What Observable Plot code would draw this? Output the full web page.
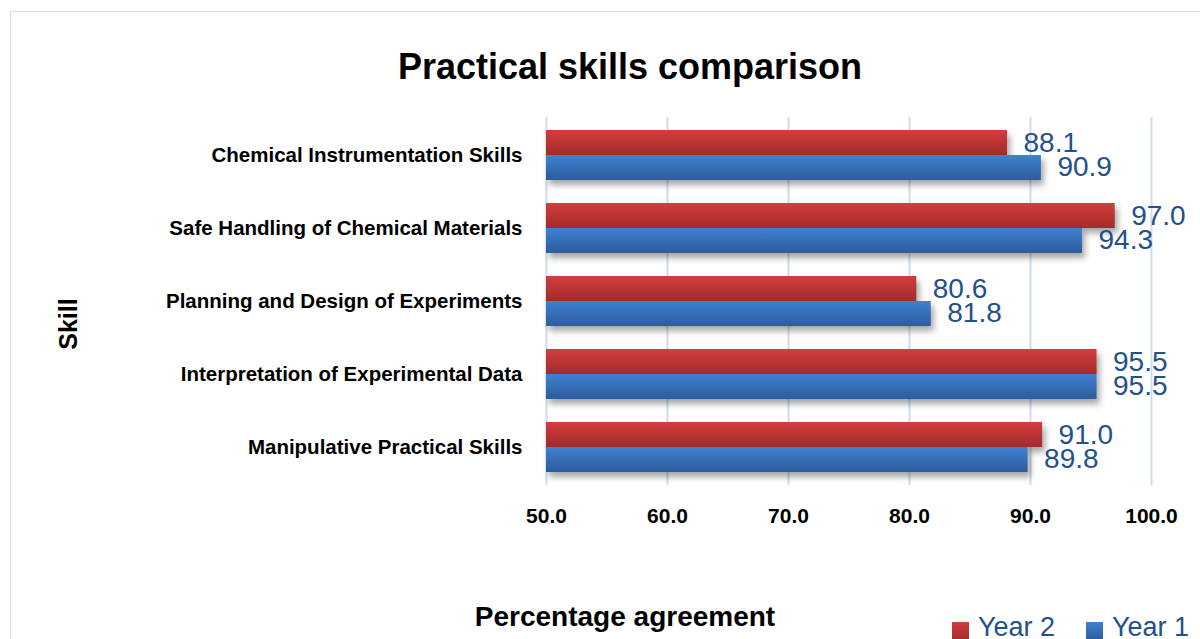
<!DOCTYPE html>
<html>
<head>
<meta charset="utf-8">
<script src="https://cdn.jsdelivr.net/npm/d3@7"></script>
<script src="https://cdn.jsdelivr.net/npm/@observablehq/plot@0.6"></script>
<style>
  html, body { margin: 0; padding: 0; background: #fff; }
  #wrap { position: relative; width: 1200px; height: 639px; overflow: hidden; font-family: "Liberation Sans", Arial, sans-serif; }
  #border { position: absolute; left: 10px; top: 11px; width: 1300px; height: 800px; border: 1.5px solid #d9e1ec; box-sizing: border-box; }
  .t { position: absolute; white-space: nowrap; line-height: 1; }
  #title { left: 630px; top: 49px; transform: translateX(-50%); font-size: 36px; font-weight: bold; color: #000; }
  #xtitle { left: 625px; top: 603px; transform: translateX(-50%); font-size: 28px; font-weight: bold; color: #000; }
  #ytitle { left: 68px; top: 324px; transform: translate(-50%, -50%) rotate(-90deg); font-size: 25px; font-weight: bold; color: #000; line-height: 1; }
  #chart { position: absolute; left: 0; top: 100px; }
  .sw { position: absolute; width: 17px; height: 17px; top: 622px; }
  .lg { position: absolute; top: 614px; font-size: 27px; color: #24508b; line-height: 1; white-space: nowrap; }
</style>
</head>
<body>
<div id="wrap">
  <div id="border"></div>
  <div id="title" class="t">Practical skills comparison</div>
  <div id="chart"></div>
  <div id="ytitle" class="t">Skill</div>
  <div id="xtitle" class="t">Percentage agreement</div>
  <div class="sw" style="left:952px;background:linear-gradient(#d33d3d,#a52c2c);"></div>
  <div class="lg" style="left:978px;">Year 2</div>
  <div class="sw" style="left:1086px;background:linear-gradient(#3f81d2,#2d5e9e);"></div>
  <div class="lg" style="left:1112px;">Year 1</div>
</div>
<script>
const skills = [
  "Chemical Instrumentation Skills",
  "Safe Handling of Chemical Materials",
  "Planning and Design of Experiments",
  "Interpretation of Experimental Data",
  "Manipulative Practical Skills"
];
const year2 = [88.1, 97.0, 80.6, 95.5, 91.0];
const year1 = [90.9, 94.3, 81.8, 95.5, 89.8];
const xTicks = [50, 60, 70, 80, 90, 100];

const d2 = skills.map((s, i) => ({skill: s, v: year2[i]}));
const d1 = skills.map((s, i) => ({skill: s, v: year1[i]}));

const font = "Liberation Sans, Arial, sans-serif";
const labelColor = "#24508b";

const chart = Plot.plot({
  width: 1200,
  height: 440,
  marginTop: 17,
  marginBottom: 55,
  marginLeft: 546,
  marginRight: 49,
  style: {fontFamily: font, color: "#000", background: "transparent", overflow: "visible"},
  x: {domain: [50, 100]},
  y: {domain: skills, paddingInner: 0.32, paddingOuter: 0.16},
  marks: [
    Plot.gridX(xTicks, {stroke: "#cfdcec", strokeOpacity: 1, strokeWidth: 2}),
    Plot.barX(d2, {x1: 50, x2: "v", y: "skill", insetBottom: 25, fill: "url(#gRed)"}),
    Plot.barX(d1, {x1: 50, x2: "v", y: "skill", insetTop: 25, fill: "url(#gBlue)"}),
    Plot.text(d2, {x: "v", y: "skill", text: d => d.v.toFixed(1), dx: 16, dy: -12, textAnchor: "start", fontSize: 28, fill: labelColor}),
    Plot.text(d1, {x: "v", y: "skill", text: d => d.v.toFixed(1), dx: 16, dy: 12, textAnchor: "start", fontSize: 28, fill: labelColor}),
    Plot.axisY({tickSize: 0, tickPadding: 24, fontSize: 20.5, fontWeight: "bold", label: null, fill: "#000"}),
    Plot.axisX({ticks: xTicks, tickSize: 0, tickPadding: 23, fontSize: 21, fontWeight: "bold", tickFormat: d => d.toFixed(1), label: null, fill: "#000"})
  ]
});

const ns = "http://www.w3.org/2000/svg";
const defs = document.createElementNS(ns, "defs");
function grad(id, c1, c2) {
  const g = document.createElementNS(ns, "linearGradient");
  g.setAttribute("id", id);
  g.setAttribute("x1", "0"); g.setAttribute("y1", "0");
  g.setAttribute("x2", "0"); g.setAttribute("y2", "1");
  [[0, c1], [1, c2]].forEach(([o, c]) => {
    const s = document.createElementNS(ns, "stop");
    s.setAttribute("offset", o);
    s.setAttribute("stop-color", c);
    g.appendChild(s);
  });
  defs.appendChild(g);
}
grad("gRed", "#d33d3d", "#a32b2b");
grad("gBlue", "#3f81d2", "#2c5c9c");
chart.insertBefore(defs, chart.firstChild);
chart.querySelectorAll('g[aria-label="bar"]').forEach(g => {
  g.style.filter = "drop-shadow(3px 5px 3px rgba(0,0,0,0.35))";
});
document.getElementById("chart").appendChild(chart);
</script>
</body>
</html>
